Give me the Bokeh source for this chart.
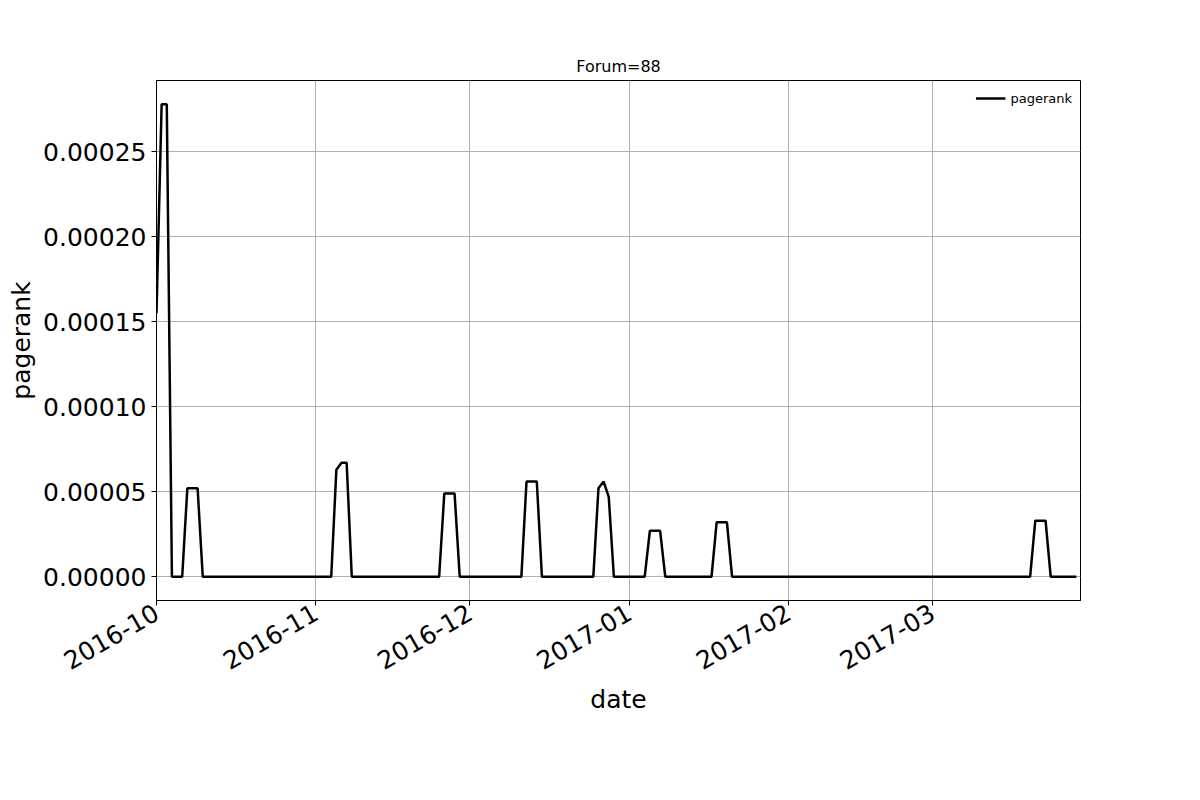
import math
from datetime import datetime, timedelta
from bokeh.plotting import figure
from bokeh.models import Range1d, FixedTicker, DatetimeTickFormatter, NumeralTickFormatter, Legend
from bokeh.embed import file_html
from bokeh.resources import INLINE

start = datetime(2016, 10, 1)
n_days = 180
# days (offset from start) with non-zero pagerank
peak_days = [0, 1, 2, 6, 7, 8, 35, 36, 37, 56, 57, 58, 72, 73, 74, 86, 87, 88,
             96, 97, 98, 109, 110, 111, 171, 172, 173]
peak_vals = [0.000155, 0.000278, 0.000278, 0.000052, 0.000052, 0.000052,
             0.000063, 0.000067, 0.000067, 0.000049, 0.000049, 0.000049,
             0.000056, 0.000056, 0.000056, 0.000052, 0.000056, 0.000047,
             0.000027, 0.000027, 0.000027, 0.000032, 0.000032, 0.000032,
             0.000033, 0.000033, 0.000033]
month_ticks = ["2016-10-01", "2016-11-01", "2016-12-01", "2017-01-01", "2017-02-01", "2017-03-01"]

dates = [start + timedelta(days=i) for i in range(n_days)]
pagerank = [0.0] * n_days
for d, v in zip(peak_days, peak_vals):
    pagerank[d] = v

p = figure(width=1184, height=784, x_axis_type="datetime", output_backend="svg",
           toolbar_location=None, title="Forum=88",
           x_range=Range1d(start, start + timedelta(days=179.8)),
           y_range=Range1d(-0.000014, 0.000292),
           min_border_left=156, min_border_right=104, min_border_top=80, min_border_bottom=184)
p.title.align = "center"
p.title.text_font = "DejaVu Sans"
p.title.text_font_size = "16px"
p.title.text_font_style = "normal"
p.title.text_color = "black"

r = p.line(dates, pagerank, line_color="black", line_width=2.5)
legend = Legend(items=[("pagerank", [r])], location="top_right", border_line_alpha=0,
                label_text_font="DejaVu Sans", label_text_font_size="13px", glyph_width=30,
                label_text_color="black", margin=2, padding=6)
p.add_layout(legend)

p.xaxis.ticker = FixedTicker(ticks=[datetime.strptime(t, "%Y-%m-%d").timestamp() * 1000 for t in month_ticks])
p.xaxis.formatter = DatetimeTickFormatter(days="%Y-%m", months="%Y-%m")
p.xaxis.major_label_orientation = math.pi / 6
p.yaxis.ticker = FixedTicker(ticks=[0, 0.00005, 0.0001, 0.00015, 0.0002, 0.00025])
p.yaxis.formatter = NumeralTickFormatter(format="0.00000")
for ax in (p.xaxis, p.yaxis):
    ax.major_label_text_font = "DejaVu Sans"
    ax.major_label_text_font_size = "25px"
    ax.major_label_text_color = "black"
    ax.axis_label_text_font = "DejaVu Sans"
    ax.axis_label_text_font_size = "25px"
    ax.axis_label_text_font_style = "normal"
    ax.axis_label_text_color = "black"
    ax.minor_tick_line_color = None
    ax.major_tick_out = 5
    ax.major_tick_in = 0
    ax.axis_label_standoff = 4
p.xaxis.axis_label = "date"
p.yaxis.axis_label = "pagerank"
p.xgrid.grid_line_color = "#b0b0b0"
p.ygrid.grid_line_color = "#b0b0b0"
p.outline_line_color = "black"

open("out.html", "w").write(file_html(p, INLINE))
